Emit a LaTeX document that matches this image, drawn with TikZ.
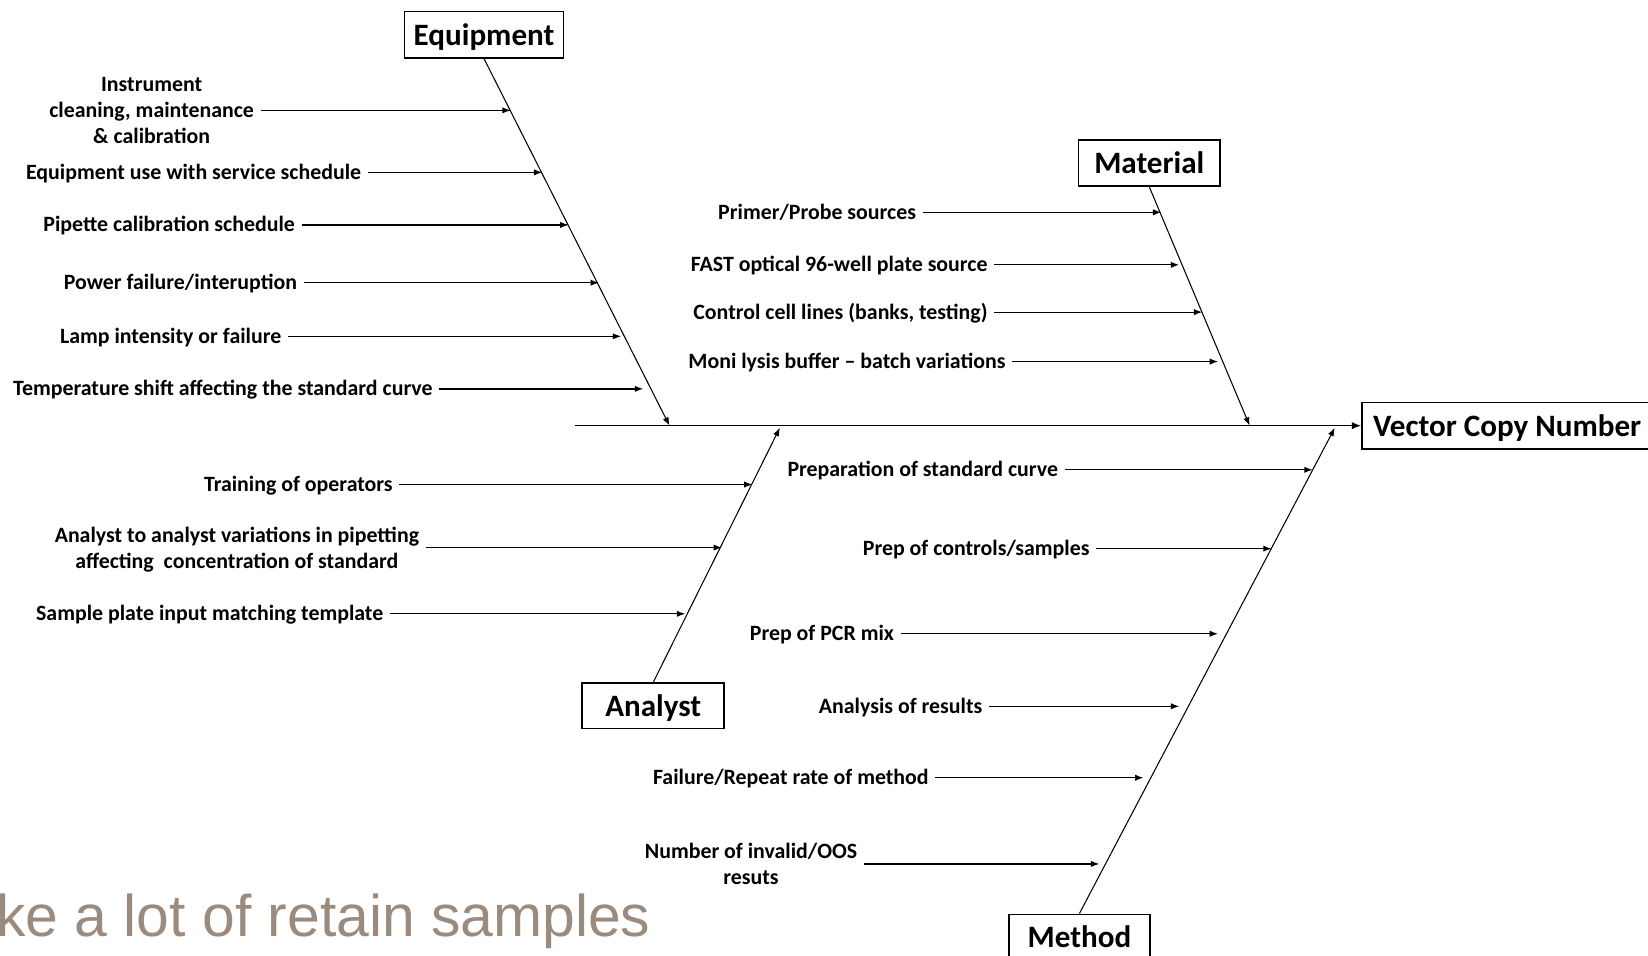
\documentclass[tikz,border=0pt]{standalone}
\usepackage{fontspec}
\setmainfont{Carlito}
\newfontfamily\arialfont{Liberation Sans}
\usetikzlibrary{arrows.meta}
\definecolor{slidegray}{RGB}{155,139,126}
\newcommand{\labstrut}{\rule[-2.9pt]{0pt}{12.5pt}}
\begin{document}
\begin{tikzpicture}[x=0.5pt,y=-0.5pt,
  lab/.style={font=\bfseries\fontsize{10.4pt}{12.25pt}\selectfont, anchor=east, inner xsep=3pt, inner ysep=0pt, align=center,
    execute at begin node=\labstrut, execute at end node=\labstrut},
  multi/.style={yshift=-1.5pt},
  cat/.style={draw, line width=0.8pt, font=\bfseries\fontsize{14.8pt}{17pt}\selectfont, inner sep=0pt, text height=12.7pt, text depth=2.3pt},
  itemarr/.style={line width=0.6pt, -{Latex[length=4pt,width=3pt]}},
  spinearr/.style={line width=0.5pt, -{Latex[length=4pt,width=3pt]}},
  mainarr/.style={line width=0.75pt, -{Latex[length=4.5pt,width=3.5pt]}}
]
\useasboundingbox (0,0) rectangle (1568,909);
\clip (0,0) rectangle (1568,909);

% background slide text
\node[anchor=base west, inner sep=0pt, text=slidegray, font=\arialfont\fontsize{28pt}{32pt}\selectfont] (slide) at (-4,891) {ke a lot of retain samples};

% category boxes
\node[cat, minimum width=75.5pt, minimum height=22pt] (eq) at (460.5,33) {Equipment};
\node[cat, minimum width=67.5pt, minimum height=22pt] (mat) at (1093.5,155) {Material};
\node[cat, minimum width=67.5pt, minimum height=21.5pt] (an) at (621.5,671.5) {Analyst};
\node[cat, minimum width=67pt, minimum height=21.5pt] (me) at (1027,891.5) {Method};
\node[cat, minimum width=138pt, minimum height=22pt] (vcn) at (1434,405) {Vector Copy Number};

% spine coordinates
\coordinate (tail) at (547,405);
\coordinate (eqend) at (637,405);
\coordinate (matend) at (1189,405);
\coordinate (anend) at (742,407);
\coordinate (meend) at (1270,407);

% main spine and bones
\draw[mainarr] (tail) -- (vcn.west);
\draw[spinearr] (eq.south) -- (eqend);
\draw[spinearr] (mat.south) -- (matend);
\draw[spinearr] (an.north) -- (anend);
\draw[spinearr] (me.north) -- (meend);

% Equipment causes
\node[lab, multi] (e1l) at (248,105) {Instrument\\cleaning, maintenance\\\& calibration};
\node[lab] (e2l) at (350,164) {Equipment use with service schedule};
\node[lab] (e3l) at (287,214) {Pipette calibration schedule};
\node[lab] (e4l) at (289,269) {Power failure/interuption};
\node[lab] (e5l) at (274,320) {Lamp intensity or failure};
\node[lab] (e6l) at (418,370) {Temperature shift affecting the standard curve};
\coordinate (e1) at (486,105);
\coordinate (e2) at (516,164);
\coordinate (e3) at (541,214);
\coordinate (e4) at (570,269);
\coordinate (e5) at (591,320);
\coordinate (e6) at (612,370);
\foreach \i in {1,...,6} {\draw[itemarr] (e\i l.east |- e\i) -- (e\i);}

% Material causes
\node[lab] (m1l) at (878,202) {Primer/Probe sources};
\node[lab] (m2l) at (946,252) {FAST optical 96-well plate source};
\node[lab] (m3l) at (946,297) {Control cell lines (banks, testing)};
\node[lab] (m4l) at (963,344) {Moni lysis buffer -- batch variations};
\coordinate (m1) at (1105,202);
\coordinate (m2) at (1122,252);
\coordinate (m3) at (1144,297);
\coordinate (m4) at (1159,344);
\foreach \i in {1,...,4} {\draw[itemarr] (m\i l.east |- m\i) -- (m\i);}

% Analyst causes
\node[lab] (a1l) at (380,461) {Training of operators};
\node[lab, multi] (a2l) at (405,521) {Analyst to analyst variations in pipetting\\affecting\ \ concentration of standard};
\node[lab] (a3l) at (371,584) {Sample plate input matching template};
\coordinate (a1) at (716,461);
\coordinate (a2) at (687,521);
\coordinate (a3) at (652,584);
\foreach \i in {1,...,3} {\draw[itemarr] (a\i l.east |- a\i) -- (a\i);}

% Method causes
\node[lab] (t1l) at (1013,447) {Preparation of standard curve};
\node[lab] (t2l) at (1043,522) {Prep of controls/samples};
\node[lab] (t3l) at (857,603) {Prep of PCR mix};
\node[lab] (t4l) at (941,672) {Analysis of results};
\node[lab] (t5l) at (890,740) {Failure/Repeat rate of method};
\node[lab, multi] (t6l) at (822,822) {Number of invalid/OOS\\resuts};
\coordinate (t1) at (1249,447);
\coordinate (t2) at (1210,522);
\coordinate (t3) at (1159,603);
\coordinate (t4) at (1122,672);
\coordinate (t5) at (1088,740);
\coordinate (t6) at (1046,822);
\foreach \i in {1,...,6} {\draw[itemarr] (t\i l.east |- t\i) -- (t\i);}
\end{tikzpicture}
\end{document}
